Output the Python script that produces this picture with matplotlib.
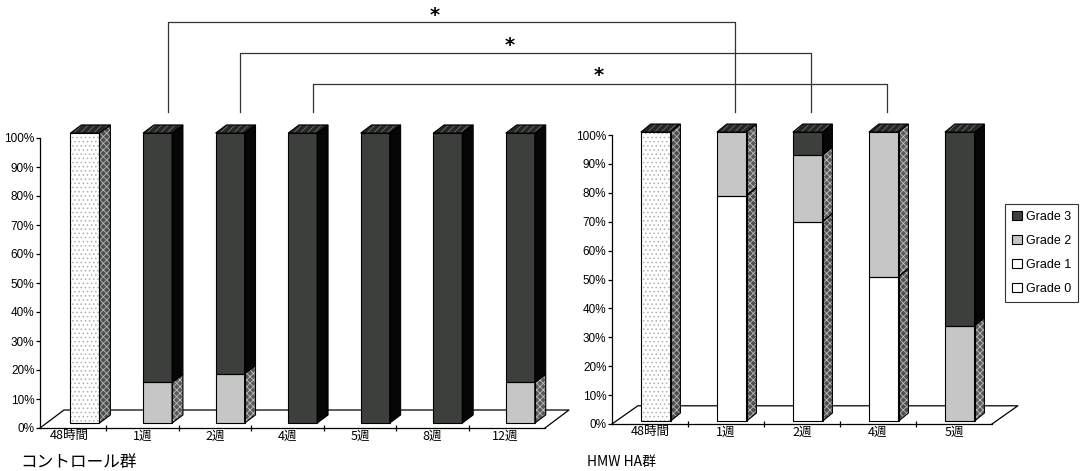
import matplotlib.pyplot as plt
from matplotlib.patches import Polygon, Patch
from matplotlib.lines import Line2D

plt.rcParams['font.family'] = ['Noto Sans CJK JP', 'DejaVu Sans']
plt.rcParams['hatch.linewidth'] = 0.6

# stacked grade percentages per time point
ctrl_labels = ['48時間', '1週', '2週', '4週', '5週', '8週', '12週']
ctrl_g0 = [100, 0, 0, 0, 0, 0, 0]
ctrl_g1 = [0, 0, 0, 0, 0, 0, 0]
ctrl_g2 = [0, 14, 17, 0, 0, 0, 14]
ctrl_g3 = [0, 86, 83, 100, 100, 100, 86]

ha_labels = ['48時間', '1週', '2週', '4週', '5週']
ha_g0 = [100, 0, 0, 0, 0]
ha_g1 = [0, 78, 69, 50, 0]
ha_g2 = [0, 22, 23, 50, 33]
ha_g3 = [0, 0, 8, 0, 67]

grade_names = ['Grade 0', 'Grade 1', 'Grade 2', 'Grade 3']

# pairs (control index, HA index) marked significant
sig_pairs = [(1, 1), (2, 2), (3, 3)]

FRONT = ['white', 'white', '#c6c6c6', '#3c3f3c']
FRONT_HATCH = [('....', '#b0b0b0'), (None, None), (None, None), (None, None)]
SIDE = ['#4c504c', '#4c504c', '#5a5a5a', '#060606']
SIDE_HATCH = [('xxxxx', '#b8b8b8'), ('xxxxx', '#b8b8b8'), ('xxxxx', '#c0c0c0'), (None, None)]
TOP = '#262626'
TICK_FONT = 'Liberation Sans'

W, H = 1083, 471
fig = plt.figure(figsize=(W / 100, H / 100), dpi=100)


def px_axes(left, zero_y, width, height):
    return fig.add_axes([left / W, (H - zero_y) / H, width / W, height / H])


def face(ax, pts, color, hatch=None, hcolor=None, lw=0.8):
    ax.add_patch(Polygon(pts, closed=True, facecolor=color,
                         edgecolor=hcolor if hcolor else color,
                         hatch=hatch, lw=0, clip_on=False, zorder=3))
    ax.add_patch(Polygon(pts, closed=True, fill=False, edgecolor='black',
                         lw=lw, clip_on=False, zorder=4))


def draw_panel(ax, labels, series, x_off, bw, dx, dy, lift, fdx, fdy):
    n = len(labels)
    tops = []
    for i in range(n):
        x0 = i + x_off
        b = lift
        for g, vals in enumerate(series):
            v = vals[i]
            if v <= 0:
                continue
            face(ax, [(x0, b), (x0 + bw, b), (x0 + bw, b + v), (x0, b + v)],
                 FRONT[g], *FRONT_HATCH[g])
            face(ax, [(x0 + bw, b), (x0 + bw + dx, b + dy),
                      (x0 + bw + dx, b + v + dy), (x0 + bw, b + v)],
                 SIDE[g], *SIDE_HATCH[g])
            b += v
        face(ax, [(x0, b), (x0 + dx, b + dy), (x0 + bw + dx, b + dy), (x0 + bw, b)],
             TOP, '/////', '#707070')
        tops.append((x0 + bw / 2, b + dy))

    # floor outline behind the bars
    xl, xr = ax.get_xlim()
    kw = dict(color='black', lw=0.9, clip_on=False, zorder=1)
    ax.add_line(Line2D([xl, xl + fdx, xr + fdx, xr], [0, fdy, fdy, 0], **kw))

    ax.set_ylim(0, 100)
    ax.set_yticks(range(0, 101, 10))
    ax.set_yticklabels([f'{t}%' for t in range(0, 101, 10)], family=TICK_FONT)
    ax.set_xticks(range(n))
    ax.set_xticklabels(labels)
    ax.set_xticks([i + 0.5 for i in range(n - 1)], minor=True)
    ax.tick_params(axis='x', which='major', length=0, labelsize=9, pad=1)
    ax.tick_params(axis='x', which='minor', length=4, direction='inout', width=0.9)
    ax.tick_params(axis='y', length=3, width=0.9, labelsize=8.5, pad=1)
    for s in ('top', 'right'):
        ax.spines[s].set_visible(False)
    ax.spines['left'].set_linewidth(0.9)
    ax.spines['bottom'].set_linewidth(0.9)
    ax.patch.set_alpha(0)
    return tops


ax1 = px_axes(40, 428, 505, 290)
ax1.set_xlim(-0.41, 6.55)
tops1 = draw_panel(ax1, ctrl_labels, [ctrl_g0, ctrl_g1, ctrl_g2, ctrl_g3],
                   x_off=0.01, bw=0.40, dx=0.15, dy=2.8, lift=1.7,
                   fdx=0.33, fdy=6.2)

ax2 = px_axes(612, 424, 380, 289)
ax2.set_xlim(-0.5, 4.5)
tops2 = draw_panel(ax2, ha_labels, [ha_g0, ha_g1, ha_g2, ha_g3],
                   x_off=-0.12, bw=0.39, dx=0.13, dy=2.8, lift=1.0,
                   fdx=0.34, fdy=6.3)

# significance brackets between the two groups
to_fig = fig.transFigure.inverted()
bracket_y = [449 / H, 418 / H, 387 / H]
drop_y = 359 / H
star_x = [435 / W, 510 / W, 599 / W]
star_y = [455 / H, 426 / H, 396 / H]
for k, (ci, hi) in enumerate(sig_pairs):
    xa = to_fig.transform(ax1.transData.transform((tops1[ci][0] + 0.14, 0)))[0]
    xb = to_fig.transform(ax2.transData.transform((tops2[hi][0] + 0.04, 0)))[0]
    yb = bracket_y[k]
    fig.add_artist(Line2D([xa, xa, xb, xb], [drop_y, yb, yb, drop_y],
                          color='#333333', lw=0.9, transform=fig.transFigure))
    fig.text(star_x[k], star_y[k], '*', ha='center', va='center',
             fontsize=14, fontweight='bold', family='DejaVu Sans')

# legend, darkest grade first
handles = [Patch(facecolor=FRONT[3], edgecolor='black', lw=0.8),
           Patch(facecolor=FRONT[2], edgecolor='black', lw=0.8),
           Patch(facecolor=FRONT[1], edgecolor='black', lw=0.8),
           Patch(facecolor=FRONT[0], edgecolor='black', lw=0.8)]
leg = fig.legend(handles, grade_names[::-1], loc='upper left',
                 bbox_to_anchor=(1005 / W, 1 - 204 / H),
                 frameon=True, fancybox=False, edgecolor='black',
                 handlelength=0.8, handleheight=0.8, handletextpad=0.3,
                 labelspacing=0.95, borderpad=0.55, borderaxespad=0,
                 prop={'family': TICK_FONT, 'size': 9})
leg.get_frame().set_linewidth(0.8)

fig.text(20 / W, 9 / H, 'コントロール群', ha='left', va='center', fontsize=12)
fig.text(587 / W, 9 / H, 'HMW HA群', ha='left', va='center', fontsize=10)

fig.savefig('out.png', dpi=100, facecolor='white')
